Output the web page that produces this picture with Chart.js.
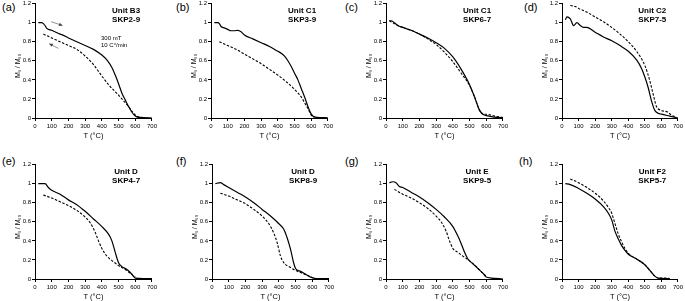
<!DOCTYPE html>
<html>
<head>
<meta charset="utf-8">
<script src="https://cdn.jsdelivr.net/npm/chart.js@4/dist/chart.umd.min.js"></script>
<style>
  body { margin: 0; background: #fff; width: 685px; height: 301px; position: relative; overflow: hidden; font-family: "Liberation Sans", Arial, sans-serif; }
  canvas { position: absolute; }
  .lbl { position: absolute; font-size: 11px; color: #000; }
</style>
</head>
<body>
<div class="lbl" style="left:2px;top:1px">(a)</div>
<div class="lbl" style="left:176px;top:1px">(b)</div>
<div class="lbl" style="left:345px;top:1px">(c)</div>
<div class="lbl" style="left:524px;top:1px">(d)</div>
<div class="lbl" style="left:2px;top:155px">(e)</div>
<div class="lbl" style="left:176px;top:155px">(f)</div>
<div class="lbl" style="left:345px;top:155px">(g)</div>
<div class="lbl" style="left:519px;top:155px">(h)</div>

<canvas id="pa"></canvas>
<canvas id="pb"></canvas>
<canvas id="pc"></canvas>
<canvas id="pd"></canvas>
<canvas id="pe"></canvas>
<canvas id="pf"></canvas>
<canvas id="pg"></canvas>
<canvas id="ph"></canvas>

<script>
// ---- data (T in degC, Ms/Ms0) ----
var xTicks = [0, 100, 200, 300, 400, 500, 600, 700]
var yTicks = [0, 0.2, 0.4, 0.6, 0.8, 1, 1.2]

// (a) Unit B3 SKP2-9
var heatTA = [20, 40, 50, 60, 70, 100, 150, 160, 200, 250, 300, 350, 400, 430, 460, 480, 500, 520, 540, 560, 580, 600, 620, 650, 700]
var heatA  = [1.0, 1.0, 0.99, 0.97, 0.94, 0.92, 0.88, 0.875, 0.84, 0.80, 0.76, 0.72, 0.66, 0.61, 0.53, 0.45, 0.36, 0.26, 0.19, 0.12, 0.06, 0.02, 0.006, 0.005, 0]
var coolTA = [50, 100, 150, 200, 250, 300, 350, 400, 450, 500, 530, 560, 590, 610, 650]
var coolA  = [0.88, 0.84, 0.80, 0.76, 0.72, 0.65, 0.56, 0.44, 0.33, 0.24, 0.18, 0.12, 0.05, 0.02, 0.005]

// (b) Unit C1 SKP3-9
var heatTB = [20, 40, 50, 60, 80, 100, 120, 140, 160, 180, 200, 250, 300, 350, 400, 420, 440, 460, 480, 500, 520, 540, 560, 580, 600, 620, 650, 680, 700]
var heatB  = [1.0, 1.0, 0.99, 0.96, 0.945, 0.93, 0.915, 0.915, 0.92, 0.905, 0.87, 0.83, 0.79, 0.75, 0.70, 0.68, 0.65, 0.60, 0.54, 0.47, 0.40, 0.31, 0.22, 0.12, 0.04, 0.01, 0.005, 0.005, 0]
var coolTB = [50, 100, 150, 200, 250, 300, 350, 400, 450, 500, 540, 560, 580, 600, 620, 650]
var coolB  = [0.80, 0.76, 0.72, 0.67, 0.62, 0.57, 0.51, 0.45, 0.38, 0.30, 0.22, 0.16, 0.10, 0.03, 0.01, 0.005]

// (c) Unit C1 SKP6-7
var heatTC = [20, 30, 50, 70, 100, 150, 200, 250, 300, 350, 400, 450, 500, 530, 560, 580, 600, 650, 700]
var heatC  = [1.02, 1.02, 1.0, 0.97, 0.95, 0.92, 0.88, 0.84, 0.79, 0.73, 0.64, 0.51, 0.35, 0.22, 0.08, 0.04, 0.025, 0.01, 0]
var coolTC = [20, 50, 100, 150, 200, 250, 300, 350, 400, 450, 500, 530, 560, 580, 600, 650, 700]
var coolC  = [1.02, 0.99, 0.95, 0.92, 0.88, 0.83, 0.77, 0.69, 0.59, 0.47, 0.34, 0.22, 0.08, 0.04, 0.04, 0.02, 0.005]

// (d) Unit C2 SKP7-5
var heatTD = [20, 30, 50, 70, 90, 110, 130, 150, 200, 250, 300, 350, 400, 450, 480, 500, 520, 540, 560, 580, 600, 650, 700]
var heatD  = [1.03, 1.06, 1.04, 0.97, 1.0, 0.97, 0.95, 0.95, 0.90, 0.85, 0.81, 0.76, 0.70, 0.61, 0.52, 0.43, 0.32, 0.18, 0.08, 0.05, 0.04, 0.02, 0]
var coolTD = [50, 80, 100, 150, 200, 250, 300, 350, 400, 450, 500, 530, 550, 570, 600, 640, 660, 690]
var coolD  = [1.18, 1.17, 1.15, 1.11, 1.06, 1.01, 0.95, 0.88, 0.80, 0.70, 0.55, 0.39, 0.25, 0.12, 0.08, 0.06, 0.03, 0.01]

// (e) Unit D SKP4-7
var heatTE = [20, 60, 80, 100, 150, 200, 250, 300, 350, 400, 440, 460, 480, 500, 520, 550, 580, 600, 650, 700]
var heatE  = [1.0, 1.0, 0.96, 0.93, 0.89, 0.83, 0.78, 0.71, 0.63, 0.55, 0.47, 0.40, 0.28, 0.17, 0.13, 0.10, 0.05, 0.01, 0.005, 0.005]
var coolTE = [50, 100, 150, 200, 250, 300, 330, 360, 380, 400, 430, 470, 500, 540, 570, 600]
var coolE  = [0.88, 0.85, 0.81, 0.77, 0.72, 0.65, 0.59, 0.49, 0.40, 0.32, 0.24, 0.18, 0.14, 0.10, 0.06, 0.02]

// (f) Unit D SKP8-9
var heatTF = [20, 50, 70, 100, 150, 200, 250, 300, 350, 400, 430, 450, 470, 490, 500, 530, 560, 590, 620, 700]
var heatF  = [1.0, 1.01, 0.99, 0.96, 0.91, 0.86, 0.80, 0.73, 0.66, 0.58, 0.52, 0.43, 0.31, 0.16, 0.11, 0.08, 0.05, 0.02, 0.005, 0.005]
var coolTF = [50, 100, 150, 200, 250, 300, 340, 370, 390, 410, 430, 470, 500, 540, 570, 600, 620]
var coolF  = [0.90, 0.87, 0.83, 0.79, 0.73, 0.66, 0.58, 0.48, 0.38, 0.24, 0.17, 0.12, 0.09, 0.06, 0.04, 0.015, 0.005]

// (g) Unit E SKP9-5
var heatTG = [20, 40, 60, 80, 100, 150, 200, 250, 300, 350, 400, 430, 450, 470, 490, 520, 550, 580, 600, 630, 700]
var heatG  = [1.01, 1.02, 1.01, 0.97, 0.96, 0.91, 0.86, 0.80, 0.73, 0.65, 0.55, 0.45, 0.37, 0.28, 0.21, 0.16, 0.11, 0.06, 0.02, 0.01, 0]
var coolTG = [50, 100, 150, 200, 250, 300, 330, 360, 380, 400, 430, 460, 500, 540, 580, 600]
var coolG  = [0.94, 0.89, 0.85, 0.80, 0.74, 0.66, 0.60, 0.50, 0.40, 0.32, 0.28, 0.24, 0.19, 0.13, 0.06, 0.03]

// (h) Unit F2 SKP5-7
var heatTH = [20, 50, 100, 150, 200, 250, 280, 300, 320, 340, 360, 380, 400, 450, 500, 530, 560, 580, 620, 650]
var heatH  = [1.0, 0.99, 0.95, 0.90, 0.84, 0.76, 0.69, 0.62, 0.50, 0.42, 0.35, 0.30, 0.26, 0.21, 0.15, 0.09, 0.03, 0.01, 0.005, 0.005]
var coolTH = [50, 100, 150, 200, 250, 280, 300, 320, 340, 360, 380, 400, 450, 500, 530, 560, 580, 620, 650]
var coolH  = [1.05, 1.01, 0.96, 0.90, 0.82, 0.75, 0.69, 0.58, 0.47, 0.39, 0.32, 0.27, 0.21, 0.15, 0.09, 0.03, 0.01, 0.01, 0.005]

// arrows in panel (a): [from, to] in data units
var arrowHeat = [[96, 1.01], [165, 0.97]]
var arrowCool = [[140, 0.73], [85, 0.78]]

var FONT = '"Liberation Sans", Arial, sans-serif'

function pts(xs, ys) {
    return xs.map(function (x, i) { return { x: x, y: ys[i] } })
}

// axis titles, unit / sample name, extra notes
var textPlugin = {
    id: 'panelText',
    afterDatasetsDraw: function (chart) {
        var o = chart.options.plugins.panelText
        var ctx = chart.ctx, xs = chart.scales.x, ys = chart.scales.y
        var area = chart.chartArea
        ctx.save()
        ctx.fillStyle = '#000'
        ctx.textBaseline = 'middle'

        // x title
        ctx.font = '7.5px ' + FONT
        ctx.textAlign = 'center'
        ctx.fillText('T (\u00b0C)', (area.left + area.right) / 2, area.bottom + 18)

        // y title (rotated)
        ctx.save()
        ctx.font = '7px ' + FONT
        ctx.translate(area.left - 17, (area.top + area.bottom) / 2 + 5)
        ctx.rotate(-Math.PI / 2)
        ctx.fillText('M\u209b / M\u209b\u2080', 0, 0)
        ctx.restore()

        ctx.font = 'bold 8px ' + FONT
        ctx.fillText(o.unit, xs.getPixelForValue(545), ys.getPixelForValue(1.125))
        ctx.fillText(o.sample, xs.getPixelForValue(545), ys.getPixelForValue(1.035))
        if (o.notes) {
            ctx.font = '6px ' + FONT
            ctx.textAlign = 'left'
            ctx.fillText('300 mT', xs.getPixelForValue(395), ys.getPixelForValue(0.84))
            ctx.fillText('10 C\u00b0/min', xs.getPixelForValue(395), ys.getPixelForValue(0.76))
            ctx.strokeStyle = '#777'
            ctx.fillStyle = '#444'
            ctx.lineWidth = 0.8;
            [arrowHeat, arrowCool].forEach(function (a) {
                var x1 = xs.getPixelForValue(a[0][0]), y1 = ys.getPixelForValue(a[0][1])
                var x2 = xs.getPixelForValue(a[1][0]), y2 = ys.getPixelForValue(a[1][1])
                ctx.beginPath(); ctx.moveTo(x1, y1); ctx.lineTo(x2, y2); ctx.stroke()
                var ang = Math.atan2(y2 - y1, x2 - x1)
                ctx.beginPath()
                ctx.moveTo(x2, y2)
                ctx.lineTo(x2 - 4 * Math.cos(ang - 0.45), y2 - 4 * Math.sin(ang - 0.45))
                ctx.lineTo(x2 - 4 * Math.cos(ang + 0.45), y2 - 4 * Math.sin(ang + 0.45))
                ctx.closePath(); ctx.fill()
            })
        }
        ctx.restore()
    }
}

// left/top = chart-area left/top in page pixels
function panel(id, left, top, unit, sample, hx, hy, cx, cy, notes) {
    var cv = document.getElementById(id)
    var cl = left - 36, ct = top - 4
    var w = 160, h = 146
    if (cl + w > 685) w = 685 - cl
    if (ct + h > 301) h = 301 - ct
    cv.width = w; cv.height = h
    cv.style.left = cl + 'px'; cv.style.top = ct + 'px'
    cv.style.width = w + 'px'; cv.style.height = h + 'px'
    var plotW = 117, plotH = 115
    var tickFont = { family: FONT, size: 6 }
    return new Chart(cv.getContext('2d'), {
        type: 'line',
        data: {
            datasets: [
                { data: pts(hx, hy), borderColor: '#000', borderWidth: 1.2, pointRadius: 0, cubicInterpolationMode: 'monotone', fill: false },
                { data: pts(cx, cy), borderColor: '#000', borderWidth: 1.1, borderDash: [2.5, 1.6], pointRadius: 0, cubicInterpolationMode: 'monotone', fill: false }
            ]
        },
        options: {
            responsive: false,
            animation: false,
            layout: { padding: { top: 4, right: w - 36 - plotW, left: 0, bottom: 0 } },
            plugins: {
                legend: { display: false },
                tooltip: { enabled: false },
                panelText: { unit: unit, sample: sample, notes: notes }
            },
            scales: {
                x: {
                    type: 'linear', min: 0, max: 700,
                    afterBuildTicks: function (s) { s.ticks = xTicks.map(function (v) { return { value: v } }) },
                    ticks: { font: tickFont, color: '#000', padding: 2, maxRotation: 0 },
                    grid: { drawOnChartArea: false, tickLength: 3, color: '#000' },
                    border: { color: '#000', width: 1 },
                    afterFit: function (s) { s.height = h - 4 - plotH }
                },
                y: {
                    min: 0, max: 1.2,
                    afterBuildTicks: function (s) { s.ticks = yTicks.map(function (v) { return { value: v } }) },
                    ticks: { font: tickFont, color: '#000', padding: 1, callback: function (v) { return String(Number(v.toFixed(1))) } },
                    grid: { drawOnChartArea: false, tickLength: 3, color: '#000' },
                    border: { color: '#000', width: 1 },
                    afterFit: function (s) { s.width = 36 }
                }
            }
        },
        plugins: [textPlugin]
    })
}

panel('pa', 35, 3, 'Unit B3', 'SKP2-9', heatTA, heatA, coolTA, coolA, true)
panel('pb', 211, 3, 'Unit C1', 'SKP3-9', heatTB, heatB, coolTB, coolB, false)
panel('pc', 386, 3, 'Unit C1', 'SKP6-7', heatTC, heatC, coolTC, coolC, false)
panel('pd', 562, 3, 'Unit C2', 'SKP7-5', heatTD, heatD, coolTD, coolD, false)
panel('pe', 35, 164, 'Unit D', 'SKP4-7', heatTE, heatE, coolTE, coolE, false)
panel('pf', 212, 164, 'Unit D', 'SKP8-9', heatTF, heatF, coolTF, coolF, false)
panel('pg', 386, 164, 'Unit E', 'SKP9-5', heatTG, heatG, coolTG, coolG, false)
panel('ph', 562, 164, 'Unit F2', 'SKP5-7', heatTH, heatH, coolTH, coolH, false)
</script>
</body>
</html>
